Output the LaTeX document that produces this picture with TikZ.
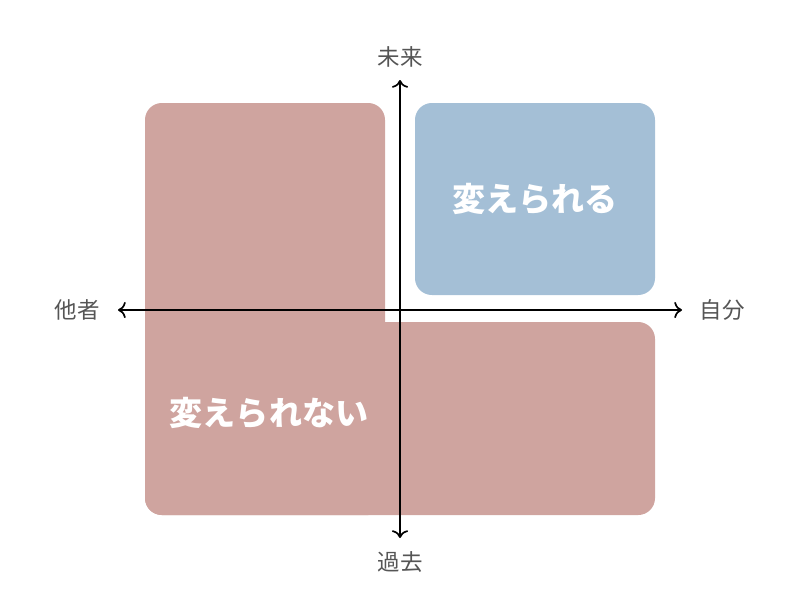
\documentclass[tikz,border=0pt]{standalone}
\usepackage{fontspec}
\usepackage{xcolor}
\usetikzlibrary{arrows.meta}
\newfontfamily\jp{Noto Sans CJK JP}
\definecolor{redbox}{HTML}{CFA49F}
\definecolor{bluebox}{HTML}{A4BFD6}
\definecolor{axtext}{HTML}{555555}
\tikzset{
    axlabel/.style={text=axtext, font=\jp\fontsize{16}{18}\selectfont},
    boxlabel/.style={text=white, font=\jp\bfseries\fontsize{23.5}{27}\selectfont},
}
\begin{document}
\begin{tikzpicture}[x=0.025cm, y=-0.025cm, >={To[scale=1.3]}]
    \useasboundingbox (0,0) rectangle (800,600);
    % L-shaped area (others / past)
    \fill[redbox, rounded corners=12] (145,103) rectangle (385,515);
    \fill[redbox, rounded corners=12] (145,322) rectangle (655,515);
    % self and future
    \node[fill=bluebox, rounded corners=12, minimum width=240*0.025cm, minimum height=192*0.025cm,
          boxlabel] (can) at (535,199) {変えられる};
    \node[boxlabel] (cannot) at (269,413) {変えられない};
    % axes
    \coordinate (w) at (118,310);
    \coordinate (e) at (682,310);
    \coordinate (n) at (400,80);
    \coordinate (s) at (400,538);
    \path[<->, line width=1.2pt] (w) edge (e);
    \path[<->, line width=1.2pt] (s) edge (n);
    % axis labels
    \node[axlabel] (future) at (400,57) {未来};
    \node[axlabel] (past) at (400,562) {過去};
    \node[axlabel] (other) at (77,310) {他者};
    \node[axlabel] (self) at (722,310) {自分};
\end{tikzpicture}
\end{document}
